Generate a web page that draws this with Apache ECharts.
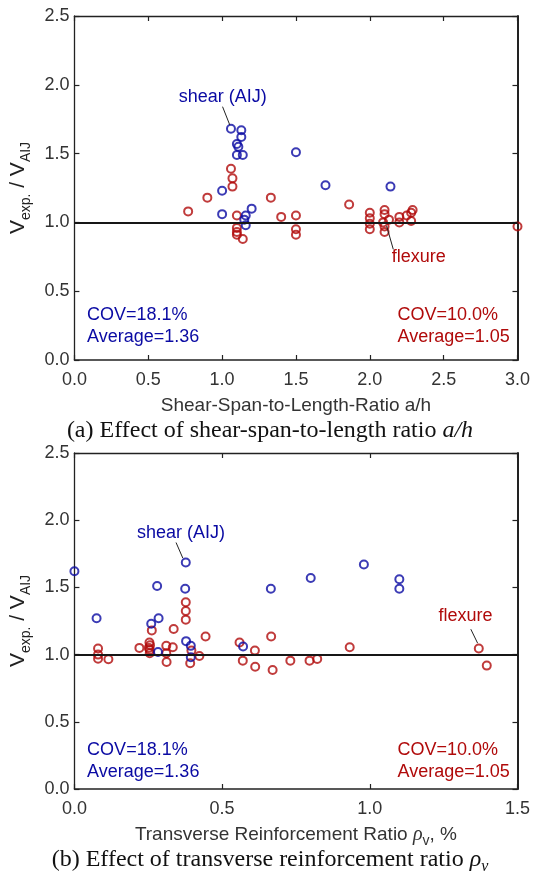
<!DOCTYPE html>
<html>
<head>
<meta charset="utf-8">
<script src="https://cdn.jsdelivr.net/npm/echarts@6/dist/echarts.min.js"></script>
<style>
  html, body { margin: 0; padding: 0; background: #fff; }
  #chart { width: 533px; height: 882px; }
</style>
</head>
<body>
<div id="chart"></div>
<script>
// Panel (a): shear-span-to-length ratio a/h vs. Vexp/VAIJ
const spanShear = [
  [1.06, 1.68], [1.13, 1.67], [1.13, 1.62], [1.10, 1.57], [1.11, 1.55],
  [1.10, 1.49], [1.14, 1.49], [1.00, 1.23], [1.00, 1.06], [1.16, 1.05],
  [1.20, 1.10], [1.15, 1.02], [1.16, 0.98], [1.50, 1.51], [1.70, 1.27],
  [2.14, 1.26]
];
const spanFlexure = [
  [0.77, 1.08], [0.90, 1.18], [1.06, 1.39], [1.07, 1.32], [1.07, 1.26],
  [1.10, 1.05], [1.10, 0.96], [1.10, 0.93], [1.10, 0.91], [1.14, 0.88],
  [1.33, 1.18], [1.40, 1.04], [1.50, 1.05], [1.50, 0.95], [1.50, 0.91],
  [1.86, 1.13], [2.00, 1.07], [2.00, 1.03], [2.00, 0.99], [2.00, 0.95],
  [2.10, 1.09], [2.10, 1.06], [2.09, 1.00], [2.13, 1.02], [2.10, 0.97],
  [2.10, 0.93], [2.20, 1.04], [2.20, 1.00], [2.28, 1.07], [2.29, 1.09],
  [2.28, 1.01], [2.25, 1.05], [3.00, 0.97]
];

// Panel (b): transverse reinforcement ratio (%) vs. Vexp/VAIJ
const rhoShear = [
  [0.00, 1.62], [0.075, 1.27], [0.26, 1.23], [0.285, 1.27], [0.28, 1.51],
  [0.283, 1.02], [0.377, 1.685], [0.375, 1.49], [0.378, 1.10], [0.394, 1.065],
  [0.394, 0.98], [0.571, 1.06], [0.665, 1.49], [0.80, 1.57], [0.98, 1.67],
  [1.10, 1.56], [1.10, 1.49]
];
const rhoFlexure = [
  [0.08, 1.045], [0.08, 1.00], [0.08, 0.97], [0.115, 0.965],
  [0.22, 1.05], [0.254, 1.09], [0.256, 1.07], [0.252, 1.05], [0.255, 1.035],
  [0.255, 1.01], [0.262, 1.18], [0.311, 1.065], [0.333, 1.055], [0.311, 1.01],
  [0.312, 0.945], [0.336, 1.19], [0.377, 1.39], [0.377, 1.325], [0.377, 1.26],
  [0.396, 1.03], [0.392, 0.935], [0.423, 0.99], [0.444, 1.135], [0.559, 1.09],
  [0.570, 0.955], [0.611, 1.03], [0.612, 0.91], [0.666, 1.135], [0.671, 0.886],
  [0.731, 0.955], [0.796, 0.955], [0.822, 0.968], [0.932, 1.055], [1.369, 1.045],
  [1.396, 0.918]
];

// Summary statistics printed in each panel
const statsShear = ['COV=18.1%', 'Average=1.36'];
const statsFlexure = ['COV=10.0%', 'Average=1.05'];

// Axis ranges: [min, max, step]
const spanAxis = [0, 3, 0.5];
const rhoAxis = [0, 1.5, 0.5];
const ratioAxis = [0, 2.5, 0.5];

const RED = '#b00a0a';
const BLUE = '#0a0aa3';
const INK = '#222';
const SANS = '"Liberation Sans", Arial, Helvetica, sans-serif';
const SERIF = '"Liberation Serif", "Times New Roman", serif';

const tickLabel = {
  fontFamily: SANS, fontSize: 18, color: '#333',
  formatter: v => v.toFixed(1)
};

function xAxes(gridIndex, range, name, gap, rich) {
  return [{
    gridIndex, type: 'value', min: range[0], max: range[1], interval: range[2],
    position: 'bottom',
    name, nameLocation: 'middle', nameGap: gap,
    nameTextStyle: { fontFamily: SANS, fontSize: 19, color: '#333', rich: rich || {} },
    axisLine: { onZero: false, lineStyle: { color: INK, width: 1.5 } },
    axisTick: { inside: true, length: 5, lineStyle: { color: INK, width: 1.2 } },
    axisLabel: Object.assign({ margin: 11 }, tickLabel),
    splitLine: { show: false }
  }, {
    gridIndex, type: 'value', min: range[0], max: range[1], interval: range[2],
    position: 'top',
    axisLine: { onZero: false, lineStyle: { color: INK, width: 1.3 } },
    axisTick: { inside: true, length: 5, lineStyle: { color: INK, width: 1.2 } },
    axisLabel: { show: false },
    splitLine: { show: false }
  }];
}

function yAxes(gridIndex, range) {
  return [{
    gridIndex, type: 'value', min: range[0], max: range[1], interval: range[2],
    position: 'left',
    name: '{m|V}{s|exp.}{m| / V}{s|AIJ}',
    nameLocation: 'middle', nameGap: 40, nameRotate: 90,
    nameTextStyle: {
      rich: {
        m: { fontFamily: SANS, fontSize: 21, color: INK, lineHeight: 30 },
        s: { fontFamily: SANS, fontSize: 14, color: INK, lineHeight: 15, verticalAlign: 'bottom' }
      }
    },
    axisLine: { onZero: false, lineStyle: { color: INK, width: 1.3 } },
    axisTick: { inside: true, length: 5, lineStyle: { color: INK, width: 1.2 } },
    axisLabel: Object.assign({ margin: 5 }, tickLabel),
    splitLine: { show: false }
  }, {
    gridIndex, type: 'value', min: range[0], max: range[1], interval: range[2],
    position: 'right',
    axisLine: { onZero: false, lineStyle: { color: INK, width: 2 } },
    axisTick: { inside: true, length: 5, lineStyle: { color: INK, width: 1.2 } },
    axisLabel: { show: false },
    splitLine: { show: false }
  }];
}

function circles(color) {
  return {
    type: 'scatter', symbol: 'circle', symbolSize: 8,
    itemStyle: { color: 'rgba(0,0,0,0)', borderColor: color, borderWidth: 2 },
    emphasis: { disabled: true }
  };
}

function notes(color, items) {
  return {
    silent: true, symbol: 'rect', symbolSize: 1,
    itemStyle: { color: 'rgba(0,0,0,0)' },
    label: {
      show: true, position: 'inside', color, fontFamily: SANS, fontSize: 18,
      formatter: p => p.name
    },
    data: items
  };
}

function leaders(extra) {
  return {
    silent: true, symbol: 'none', animation: false,
    label: { show: false },
    lineStyle: { color: INK, width: 1, type: 'solid' },
    data: extra
  };
}

const unityLine = { yAxis: 1, lineStyle: { color: '#161616', width: 2, type: 'solid' } };

const option = {
  animation: false,
  backgroundColor: '#fff',
  grid: [
    { left: 73, right: 13, top: 16, height: 344 },
    { left: 73, right: 13, top: 453, height: 336 }
  ],
  xAxis: [
    ...xAxes(0, spanAxis, 'Shear-Span-to-Length-Ratio a/h', 36),
    ...xAxes(1, rhoAxis, 'Transverse Reinforcement Ratio {rho|ρ}{sub|v}, %', 33, {
      rho: { fontFamily: SERIF, fontStyle: 'italic', fontSize: 20, color: '#333', lineHeight: 26 },
      sub: { fontFamily: SANS, fontSize: 14, color: '#333', lineHeight: 14, verticalAlign: 'bottom' }
    })
  ],
  yAxis: [
    ...yAxes(0, ratioAxis),
    ...yAxes(1, ratioAxis)
  ],
  series: [
    Object.assign(circles(RED), {
      name: 'flexure', xAxisIndex: 0, yAxisIndex: 0, data: spanFlexure,
      markLine: leaders([unityLine, [{ coord: [2.114, 0.974] }, { coord: [2.159, 0.804] }]]),
      markPoint: notes(RED, [
        { name: 'flexure', coord: [2.332, 0.745] },
        { name: statsFlexure[0], coord: [2.188, 0.33], label: { align: 'left' } },
        { name: statsFlexure[1], coord: [2.188, 0.17], label: { align: 'left' } }
      ])
    }),
    Object.assign(circles(BLUE), {
      name: 'shear (AIJ)', xAxisIndex: 0, yAxisIndex: 0, data: spanShear,
      markLine: leaders([[{ coord: [1.003, 1.841] }, { coord: [1.052, 1.708] }]]),
      markPoint: notes(BLUE, [
        { name: 'shear (AIJ)', coord: [1.005, 1.911] },
        { name: statsShear[0], coord: [0.085, 0.33], label: { align: 'left' } },
        { name: statsShear[1], coord: [0.085, 0.17], label: { align: 'left' } }
      ])
    }),
    Object.assign(circles(RED), {
      name: 'flexure', xAxisIndex: 2, yAxisIndex: 2, data: rhoFlexure,
      markLine: leaders([unityLine, [{ coord: [1.342, 1.189] }, { coord: [1.365, 1.085] }]]),
      markPoint: notes(RED, [
        { name: 'flexure', coord: [1.324, 1.288] },
        { name: statsFlexure[0], coord: [1.094, 0.287], label: { align: 'left' } },
        { name: statsFlexure[1], coord: [1.094, 0.123], label: { align: 'left' } }
      ])
    }),
    Object.assign(circles(BLUE), {
      name: 'shear (AIJ)', xAxisIndex: 2, yAxisIndex: 2, data: rhoShear,
      markLine: leaders([[{ coord: [0.344, 1.834] }, { coord: [0.367, 1.718] }]]),
      markPoint: notes(BLUE, [
        { name: 'shear (AIJ)', coord: [0.361, 1.906] },
        { name: statsShear[0], coord: [0.043, 0.287], label: { align: 'left' } },
        { name: statsShear[1], coord: [0.043, 0.123], label: { align: 'left' } }
      ])
    })
  ],
  graphic: [
    {
      type: 'text', x: 270, y: 431, silent: true,
      style: {
        text: '(a) Effect of shear-span-to-length ratio {i|a/h}',
        font: '24px ' + SERIF, fill: '#111',
        align: 'center', verticalAlign: 'middle',
        rich: { i: { fontFamily: SERIF, fontStyle: 'italic', fontSize: 24, fill: '#111' } }
      }
    },
    {
      type: 'text', x: 270, y: 860, silent: true,
      style: {
        text: '(b) Effect of transverse reinforcement ratio {i|ρ}{s|v}',
        font: '24px ' + SERIF, fill: '#111',
        align: 'center', verticalAlign: 'middle',
        rich: {
          i: { fontFamily: SERIF, fontStyle: 'italic', fontSize: 24, fill: '#111', lineHeight: 30 },
          s: { fontFamily: SERIF, fontStyle: 'italic', fontSize: 16, fill: '#111', lineHeight: 16, verticalAlign: 'bottom' }
        }
      }
    }
  ]
};

const chart = echarts.init(document.getElementById('chart'), null, { renderer: 'canvas' });
chart.setOption(option);
</script>
</body>
</html>
